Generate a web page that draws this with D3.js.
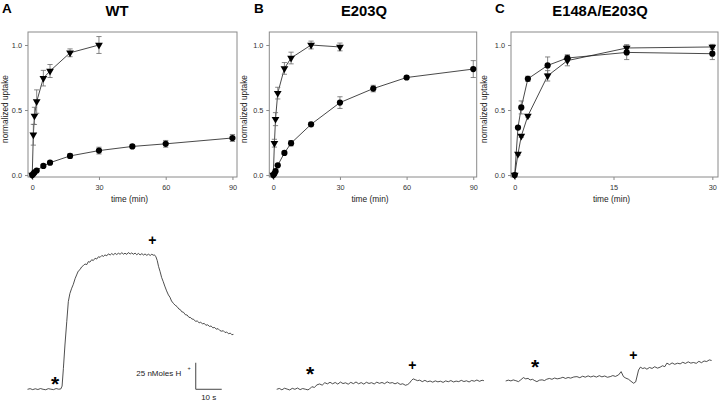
<!DOCTYPE html>
<html><head><meta charset="utf-8">
<script src="https://cdn.jsdelivr.net/npm/d3@7"></script>
<style>
body{margin:0;background:#fff}
svg{display:block}
text{font-family:"Liberation Sans",Arial,sans-serif}
</style>
</head><body>
<svg id="c" width="720" height="401"></svg>
<script>
// ---------------- data ----------------
const panelLetters = ["A","B","C"];
const panelTitles = ["WT","E203Q","E148A/E203Q"];
const yTicks = [0, 0.5, 1.0];
const yTickLabels = ["0.0","0.5","1.0"];
const xTicksAB = [0, 30, 60, 90];
const xTicksC = [0, 15, 30];
const xLabel = "time (min)";
const yLabel = "normalized uptake";

// Panel A (WT)
const timeA_circ = [0,0.5,1,2,5,8,17,30,45,60,90];
const valA_circ  = [0,0.01,0.02,0.035,0.07,0.095,0.147,0.188,0.22,0.24,0.285];
const errA_circ  = [0,0.005,0.005,0.008,0.01,0.01,0.016,0.026,0.012,0.026,0.027];
const timeA_tri  = [0,0.5,1,2,5,8,17,30];
const valA_tri   = [0,0.31,0.455,0.565,0.745,0.80,0.94,1.0];
const errA_tri   = [0,0.08,0.066,0.09,0.06,0.05,0.03,0.065];

// Panel B (E203Q)
const timeB_circ = [0,0.5,1,2,5,8,17,30,45,60,90];
const valB_circ  = [0,0.012,0.03,0.075,0.17,0.245,0.39,0.557,0.665,0.75,0.815];
const errB_circ  = [0,0.005,0.008,0.01,0.01,0.02,0.015,0.045,0.025,0.01,0.065];
const timeB_tri  = [0,0.5,1,2,5,8,17,30];
const valB_tri   = [0,0.245,0.43,0.63,0.82,0.90,1.0,0.985];
const errB_tri   = [0,0.03,0.05,0.045,0.045,0.045,0.03,0.03];

// Panel C (E148A/E203Q)
const timeC_circ = [0,0.5,1,2,5,8,17,30];
const valC_circ  = [0,0.365,0.52,0.74,0.843,0.90,0.943,0.933];
const errC_circ  = [0,0.01,0.05,0.02,0.065,0.025,0.055,0.045];
const timeC_tri  = [0,0.5,1,2,5,8,17,30];
const valC_tri   = [0,0.162,0.30,0.455,0.763,0.88,0.977,0.985];
const errC_tri   = [0,0.01,0.01,0.01,0.04,0.04,0.025,0.02];

// Proton-flux traces: [time (s), signal (nMoles H+)]
const traceWT = [[0,0],[1,0.6],[2,-0.3],[3,0.5],[4,-0.2],[5,0.7],[6,0],[7,-0.4],[8,0.6],[9,0.1],[10,-0.3],[11,0.7],[12,0.1],[12.8,0.3],[13.3,3],[13.8,19.5],[14.4,41.6],[15.1,63.6],[15.7,82.4],[16.3,90],[17,95],[17.6,98.5],[18.3,104],[18.9,107.5],[19.5,111],[20.2,112.5],[20.8,115],[21.5,116.3],[22.1,117.8],[22.8,117.2],[23.4,120],[24,119.5],[24.7,121.8],[25.3,121],[26,123.2],[26.6,122.4],[27.3,124.6],[27.9,124],[28.6,125.8],[29.2,124.9],[29.8,126.3],[30.5,125.5],[31.1,127.3],[31.8,126.2],[32.4,127.6],[33,126.4],[33.7,127.8],[34.3,126.7],[35,127.9],[35.6,126.9],[36.3,128.4],[36.9,127],[37.5,127.9],[38.2,126.8],[38.8,128.5],[39.5,127.2],[40.1,128.2],[40.7,126.9],[41.4,128],[42,126.5],[42.7,127.7],[43.3,126.3],[44,127.5],[44.6,126.2],[45.2,127.2],[45.9,125.9],[46.5,127],[47.2,125.8],[47.8,126.9],[48.5,126],[48.8,126.4],[49.4,124.5],[49.9,121],[50.4,115.5],[51,110.6],[51.6,105],[52.2,101.2],[52.8,97],[53.5,92.5],[54.2,88.7],[54.8,86.5],[55.4,83],[56.1,80.8],[56.8,79],[57.5,77.8],[58.2,75.5],[58.8,74.8],[59.3,72.9],[60,72.4],[60.7,70.1],[61.4,69.8],[62.1,67.6],[62.7,67.5],[63.2,66.1],[63.9,65.8],[64.6,63.9],[65.3,64.2],[66,62.5],[66.6,63],[67.3,61.6],[68,61.9],[68.6,60.2],[69.3,60.6],[70,59.1],[70.6,59.5],[71.3,57.8],[72,58.1],[72.6,56.5],[73.3,57],[74,55.2],[74.7,54.6],[75.3,55.1],[76,53.3],[76.6,53.9],[77.3,52.2],[78,52.8],[78.6,51.3],[79.2,51.6]];
const traceE203Q = [[0,0],[1,0.8],[2,-0.5],[3,1],[4,0.2],[5,-0.6],[6,0.9],[7,0],[8,1.2],[9,-0.3],[10,0.7],[11,0.1],[12,-0.5],[12.6,0.2],[13.5,2.4],[14.5,1.8],[15.5,4.2],[16.5,5],[17.5,3.9],[18.5,6.2],[19.5,5.1],[20.5,6.6],[21.5,5.2],[22.5,6.4],[23.5,4.9],[24.5,6.8],[25.5,5.4],[26.5,6.1],[27.5,4.8],[28.5,6.5],[29.5,5.3],[30.5,6.9],[31.5,5.2],[32.5,6.3],[33.5,4.9],[34.5,6.6],[35.5,5.5],[36.5,6.2],[37.5,5],[38.5,6.7],[39.5,5.6],[40.5,6.4],[41.5,5.3],[42.5,7],[43.5,5.8],[44.5,6.3],[45.5,5.1],[46.5,6.2],[47.5,4.6],[48.5,5.2],[49.5,3.8],[50.3,4.4],[51,5.6],[51.8,8.2],[52.5,9.8],[53.3,9],[54.2,8.1],[55,8.6],[56,7.2],[57,8.4],[58,7.1],[59,7.8],[60,6.7],[61,7.9],[62,7],[63,7.6],[64,6.5],[65,7.9],[66,7.1],[67,8.2],[68,6.9],[69,7.7],[70,7.2],[71,8.4],[72,7.3],[73,8],[74,6.9],[75,8.3],[76,7.6],[77,8.7],[78,7.5],[79,8.5],[79.7,8.1]];
const traceE148A = [[0,7.8],[1,8.6],[2,7.9],[2.9,8.8],[3.9,8.1],[4.9,7.2],[5.8,8.9],[6.8,11],[7.7,9.8],[8.6,10.3],[9.4,8.8],[10.3,9.4],[11.2,8.1],[12,7.2],[13,8.6],[14,8.9],[14.9,8.2],[15.8,9.5],[16.8,10.2],[17.8,9.4],[18.8,10.6],[19.8,9.8],[21,10.4],[22,11.3],[23,10.2],[24,11.1],[25,10.5],[26.2,11.6],[27.4,11.9],[28.5,10.9],[29.6,12.3],[30.6,11.4],[31.7,12.6],[32.7,11.6],[33.8,12.5],[34.9,11.5],[36,12.8],[37,11.7],[38.1,12.5],[39.1,11.3],[40.2,11.9],[41.2,12.9],[42.2,12.1],[43.4,13.5],[44.4,16.6],[45.3,11.9],[46.2,10.5],[47.2,9.5],[48.2,7.5],[49.2,5.7],[50,7],[51.1,18.1],[51.8,20.8],[52.7,19.5],[53.5,20.2],[54.3,18.9],[55.3,20.5],[56.3,19.6],[57.3,21.2],[58.4,19.9],[59.4,20.8],[60.3,22.1],[61.2,21.3],[62,24.6],[63,23.2],[64,24.8],[65,23.5],[66.1,24.5],[67.1,23.9],[68.1,25.4],[69.1,24.3],[70.2,25.8],[71.2,24.6],[72.2,25.2],[73.3,24.4],[74.3,26.3],[75.3,25],[76.3,26.6],[77.3,26.1],[78.3,27.6],[79.2,27.1]];
// markers: [time (s), level (nMoles)] for "*" (substrate addition) and "+" (second addition)
const markStarWT = [10.6, 8.7],   markPlusWT = [48.0, 140.3];
const markStarE203Q = [12.8, 18.1], markPlusE203Q = [52.2, 22.2];
const markStarE148A = [11.3, 25.0], markPlusE148A = [49.1, 32.2];
const scaleBarY = 25, scaleBarX = 10;
const scaleBarLabelY = "25 nMoles H", scaleBarLabelX = "10 s";

// ---------------- drawing ----------------
const svg = d3.select("#c");
const yScale = d3.scaleLinear().domain([-0.015, 1.10]).range([177, 32]);

const panels = [
  {letter: panelLetters[0], title: panelTitles[0], xDom:[-1.9, 92.05], xRng:[28, 237], ticks: xTicksAB, letterX: 2, titleX: 117, ylabX: 8,
   circ: {t: timeA_circ, v: valA_circ, e: errA_circ}, tri: {t: timeA_tri, v: valA_tri, e: errA_tri}},
  {letter: panelLetters[1], title: panelTitles[1], xDom:[-1.8, 91.55], xRng:[269.3, 476.7], ticks: xTicksAB, letterX: 254, titleX: 364, ylabX: 247,
   circ: {t: timeB_circ, v: valB_circ, e: errB_circ}, tri: {t: timeB_tri, v: valB_tri, e: errB_tri}},
  {letter: panelLetters[2], title: panelTitles[2], xDom:[-0.56, 30.86], xRng:[511, 718], ticks: xTicksC, letterX: 495, titleX: 600, ylabX: 487,
   circ: {t: timeC_circ, v: valC_circ, e: errC_circ}, tri: {t: timeC_tri, v: valC_tri, e: errC_tri}}
];

const triPath = d3.symbol().type(d3.symbolTriangle).size(26)();
const lineColor = "#1a1a1a";
const errColor = "#6a6a6a";

panels.forEach(p => {
  const x = d3.scaleLinear().domain(p.xDom).range(p.xRng);
  const g = svg.append("g");
  g.append("text").attr("x", p.letterX).attr("y", 12.5).attr("font-size", 13.5).attr("font-weight", "bold").attr("fill", "#000").text(p.letter);
  g.append("text").attr("x", p.titleX).attr("y", 15.5).attr("text-anchor", "middle").attr("font-size", 14.8).attr("font-weight", "bold").attr("fill", "#000").text(p.title);

  g.append("rect").attr("x", p.xRng[0]).attr("y", 32).attr("width", p.xRng[1]-p.xRng[0]).attr("height", 145)
    .attr("fill", "none").attr("stroke", "#8a8a8a").attr("stroke-width", 1);

  const xAxis = d3.axisBottom(x).tickValues(p.ticks).tickSize(3).tickPadding(5).tickFormat(d3.format("d"));
  const gx = g.append("g").attr("transform", "translate(0,177)").call(xAxis);
  gx.select(".domain").remove();
  gx.selectAll("line").attr("stroke", "#8a8a8a");
  gx.selectAll("text").attr("font-size", 7.3).attr("fill", "#333").attr("font-family", "Liberation Sans, Arial, sans-serif");

  const yAxis = d3.axisLeft(yScale).tickValues(yTicks).tickSize(3).tickPadding(3).tickFormat((d,i) => yTickLabels[i]);
  const gy = g.append("g").attr("transform", `translate(${p.xRng[0]},0)`).call(yAxis);
  gy.select(".domain").remove();
  gy.selectAll("line").attr("stroke", "#8a8a8a");
  gy.selectAll("text").attr("font-size", 7.3).attr("fill", "#333").attr("font-family", "Liberation Sans, Arial, sans-serif");

  g.append("text").attr("x", (p.xRng[0]+p.xRng[1])/2 - 3).attr("y", 202).attr("text-anchor", "middle")
    .attr("font-size", 8.4).attr("fill", "#222").text(xLabel);
  g.append("text").attr("transform", `translate(${p.ylabX},109) rotate(-90)`).attr("text-anchor", "middle")
    .attr("font-size", 8.3).attr("fill", "#222").text(yLabel);

  const line = d3.line().x(d => x(d[0])).y(d => yScale(d[1]));
  [p.tri, p.circ].forEach(s => {
    const pts = s.t.map((t,i) => [t, s.v[i], s.e[i]]);
    g.append("path").datum(pts).attr("d", line).attr("fill", "none").attr("stroke", lineColor).attr("stroke-width", 0.8);
  });
  [p.tri, p.circ].forEach(s => {
    const pts = s.t.map((t,i) => [t, s.v[i], s.e[i]]).filter(d => d[2] > 0.006);
    const eg = g.append("g").attr("stroke", errColor).attr("stroke-width", 0.8);
    pts.forEach(d => {
      const cx = x(d[0]), y1 = yScale(d[1]-d[2]), y2 = yScale(d[1]+d[2]);
      eg.append("line").attr("x1", cx).attr("x2", cx).attr("y1", y1).attr("y2", y2);
      eg.append("line").attr("x1", cx-2.6).attr("x2", cx+2.6).attr("y1", y1).attr("y2", y1);
      eg.append("line").attr("x1", cx-2.6).attr("x2", cx+2.6).attr("y1", y2).attr("y2", y2);
    });
  });
  const triPts = p.tri.t.map((t,i) => [t, p.tri.v[i]]);
  g.selectAll(null).data(triPts).join("path").attr("d", triPath)
    .attr("transform", d => `translate(${x(d[0])},${yScale(d[1])}) rotate(180)`).attr("fill", "#000");
  const circPts = p.circ.t.map((t,i) => [t, p.circ.v[i]]);
  g.selectAll(null).data(circPts).join("circle").attr("cx", d => x(d[0])).attr("cy", d => yScale(d[1])).attr("r", 3.1).attr("fill", "#000");
});

// ---------------- traces ----------------
const yT = d3.scaleLinear().domain([0, 25]).range([389.3, 362.7]);
const traces = [
  {data: traceWT, x0: 27.5, star: markStarWT, plus: markPlusWT},
  {data: traceE203Q, x0: 276.7, star: markStarE203Q, plus: markPlusE203Q},
  {data: traceE148A, x0: 505.7, star: markStarE148A, plus: markPlusE148A}
];
traces.forEach(tr => {
  const xT = d3.scaleLinear().domain([0, 10]).range([tr.x0, tr.x0 + 26]);
  const line = d3.line().x(d => xT(d[0])).y(d => yT(d[1]));
  svg.append("path").datum(tr.data).attr("d", line).attr("fill", "none").attr("stroke", "#222").attr("stroke-width", 0.8);
  svg.append("text").attr("x", xT(tr.star[0])).attr("y", yT(tr.star[1]) + 11).attr("text-anchor", "middle")
    .attr("font-size", 21).attr("font-weight", "bold").attr("fill", "#000").text("*");
  svg.append("text").attr("x", xT(tr.plus[0])).attr("y", yT(tr.plus[1]) + 4.8).attr("text-anchor", "middle")
    .attr("font-size", 14).attr("font-weight", "bold").attr("fill", "#000").text("+");
  tr.xT = xT;
});

// scale bar (in WT trace units)
const xWT = traces[0].xT;
const sb0 = 64.7;
const sb = svg.append("g").attr("stroke", "#555").attr("stroke-width", 1.1).attr("fill", "none");
sb.append("line").attr("x1", xWT(sb0)).attr("x2", xWT(sb0)).attr("y1", yT(0)).attr("y2", yT(scaleBarY));
sb.append("line").attr("x1", xWT(sb0)).attr("x2", xWT(sb0 + scaleBarX)).attr("y1", yT(0)).attr("y2", yT(0));
svg.append("text").attr("x", xWT(sb0) - 14.5).attr("y", 376).attr("text-anchor", "end").attr("font-size", 8).attr("fill", "#222").text(scaleBarLabelY);
svg.append("text").attr("x", xWT(sb0) - 6.5).attr("y", 370).attr("text-anchor", "middle").attr("font-size", 5.5).attr("fill", "#222").text("+");
svg.append("text").attr("x", xWT(sb0 + scaleBarX/2)).attr("y", 399.5).attr("text-anchor", "middle").attr("font-size", 8).attr("fill", "#222").text(scaleBarLabelX);
</script>
</body></html>
